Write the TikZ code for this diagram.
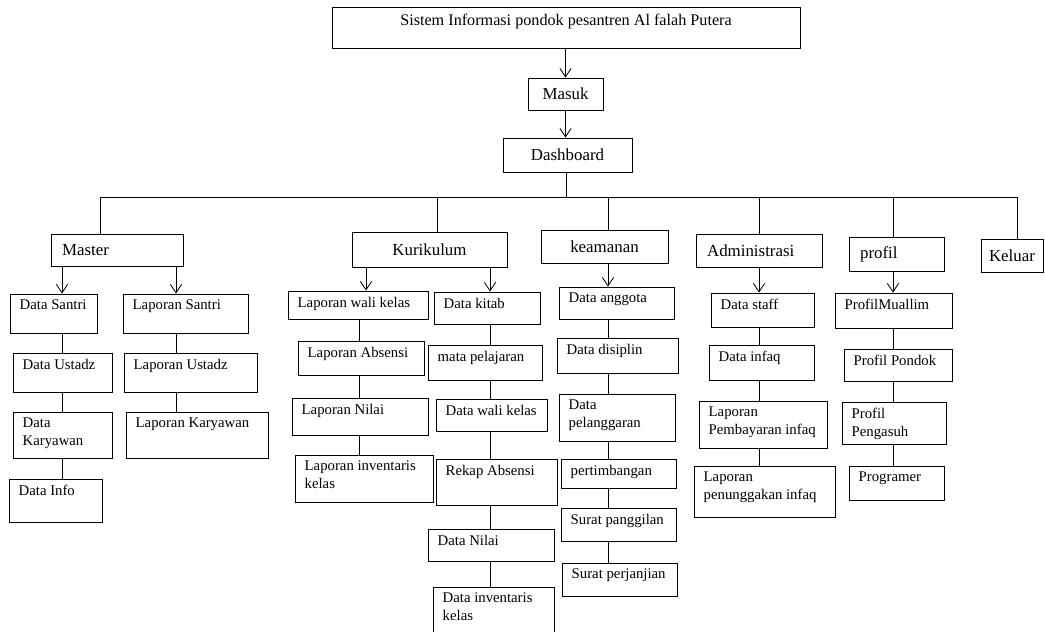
\documentclass[tikz,border=0pt]{standalone}
\usepackage{fontspec}
\setmainfont{Liberation Serif}
\usetikzlibrary{arrows.meta}

\begin{document}
\begin{tikzpicture}[x=0.025cm,y=-0.025cm]
\tikzstyle{box}=[draw,line width=0.6pt,inner sep=0pt]
\tikzstyle{head}=[box,font=\fontsize{12}{14}\selectfont]
\tikzstyle{ttl}=[anchor=north,inner ysep=5pt,font=\fontsize{11.5}{13}\selectfont]
\tikzstyle{lefthead}=[anchor=west,inner xsep=8pt,font=\fontsize{12}{14}\selectfont]
\tikzstyle{sub}=[anchor=north west,inner xsep=7pt,inner ysep=4.5pt,align=left,font=\fontsize{10.5}{12.6}\selectfont]
\tikzstyle{arr}=[line width=0.6pt,-{Straight Barb[length=6pt,width=8pt]}]
\tikzstyle{link}=[line width=0.6pt]
\tikzset{wh/.style 2 args={minimum width=#1*0.025cm,minimum height=#2*0.025cm}}
\useasboundingbox (0,0) rectangle (1045,631);
% top
\node[box,wh={468}{41},label={[ttl]north:Sistem Informasi pondok pesantren Al falah Putera}] (title) at (566,27.5) {};
\node[head,wh={75}{32}] (masuk) at (565.5,94) {Masuk};
\node[head,wh={129}{34}] (dash) at (567.5,155) {Dashboard};
% menu
\node[box,wh={132}{32},label={[lefthead]west:Master}] (master) at (117,250) {};
\node[head,wh={155}{35}] (kur) at (429.5,249.5) {Kurikulum};
\node[head,wh={127}{33}] (keam) at (604.5,246.5) {keamanan};
\node[box,wh={126}{33},label={[lefthead]west:Administrasi}] (admin) at (759,250.5) {};
\node[box,wh={95}{34},label={[lefthead]west:profil}] (profil) at (896.5,254) {};
\node[head,wh={62}{33}] (keluar) at (1012,255.5) {Keluar};
% master
\node[box,wh={87}{39},label={[sub]north west:Data Santri}] (dsantri) at (53.5,313.5) {};
\node[box,wh={99}{39},label={[sub]north west:Data Ustadz}] (dustadz) at (62.5,372.5) {};
\node[box,wh={99}{46},label={[sub]north west:Data\\Karyawan}] (dkary) at (62.5,435) {};
\node[box,wh={93}{43},label={[sub]north west:Data Info}] (dinfo) at (55.5,500.5) {};
\node[box,wh={125}{39},label={[sub]north west:Laporan Santri}] (lsantri) at (185.5,313.5) {};
\node[box,wh={133}{39},label={[sub]north west:Laporan Ustadz}] (lustadz) at (190.5,372.5) {};
\node[box,wh={142}{46},label={[sub]north west:Laporan Karyawan}] (lkary) at (197,435) {};
% kurikulum
\node[box,wh={140}{28},label={[sub]north west:Laporan wali kelas}] (lwk) at (358,305) {};
\node[box,wh={126}{34},label={[sub]north west:Laporan Absensi}] (labs) at (361,358) {};
\node[box,wh={136}{37},label={[sub]north west:Laporan Nilai}] (lnilai) at (360,416.5) {};
\node[box,wh={138}{47},label={[sub]north west:Laporan inventaris\\kelas}] (linv) at (364,478.5) {};
\node[box,wh={106}{32},label={[sub]north west:Data kitab}] (dkitab) at (487,308) {};
\node[box,wh={114}{35},label={[sub]north west:mata pelajaran}] (mapel) at (485,362.5) {};
\node[box,wh={111}{32},label={[sub]north west:Data wali kelas}] (dwk) at (491.5,415) {};
\node[box,wh={121}{46},label={[sub]north west:Rekap Absensi}] (rekap) at (496.5,482) {};
\node[box,wh={126}{32},label={[sub]north west:Data Nilai}] (dnilai) at (491,545) {};
\node[box,wh={121}{49},label={[sub]north west:Data inventaris\\kelas}] (dinv) at (493.5,611.5) {};
% keamanan
\node[box,wh={115}{32},label={[sub]north west:Data anggota}] (dangg) at (616.5,303) {};
\node[box,wh={121}{35},label={[sub]north west:Data disiplin}] (ddisip) at (617.5,355.5) {};
\node[box,wh={116}{47},label={[sub]north west:Data\\pelanggaran}] (dpelang) at (617,417.5) {};
\node[box,wh={115}{29},label={[sub]north west:pertimbangan}] (pertimb) at (618.5,473.5) {};
\node[box,wh={115}{33},label={[sub]north west:Surat panggilan}] (spang) at (618.5,524.5) {};
\node[box,wh={115}{33},label={[sub]north west:Surat perjanjian}] (sperj) at (619.5,579.5) {};
% administrasi
\node[box,wh={103}{34},label={[sub]north west:Data staff}] (dstaff) at (762.5,310) {};
\node[box,wh={105}{35},label={[sub]north west:Data infaq}] (dinfaq) at (761.5,362.5) {};
\node[box,wh={128}{47},label={[sub]north west:Laporan\\Pembayaran infaq}] (lpemb) at (763,424.5) {};
\node[box,wh={141}{51},label={[sub]north west:Laporan\\penunggakan infaq}] (lpenu) at (764.5,491.5) {};
% profil
\node[box,wh={117}{35},label={[sub]north west:ProfilMuallim}] (pmuallim) at (893.5,310.5) {};
\node[box,wh={108}{32},label={[sub]north west:Profil Pondok}] (ppondok) at (898,365) {};
\node[box,wh={104}{42},label={[sub]north west:Profil\\Pengasuh}] (ppengasuh) at (894,423) {};
\node[box,wh={95}{34},label={[sub]north west:Programer}] (programer) at (896.5,483) {};
% columns and bus
\coordinate (bus) at (566,197);
\coordinate (c1) at (62,0);
\coordinate (c2) at (176,0);
\coordinate (c3) at (359,0);
\coordinate (c4) at (490,0);
\coordinate (c5) at (608,0);
\coordinate (c6) at (759,0);
\coordinate (c7) at (893,0);
\draw[arr] (title.south -| masuk.north) -- (masuk.north);
\draw[arr] (masuk.south) -- (masuk.south |- dash.north);
\draw[link] (dash.south -| bus) -- (bus);
\draw[link] ([xshift=-0.42cm]master.north) |- ([xshift=0.125cm]keluar.north |- bus) -- ([xshift=0.125cm]keluar.north);
\draw[link] ([xshift=0.21cm]kur.north) -- ([xshift=0.21cm]kur.north |- bus);
\draw[link] (keam.north -| c5) -- (bus -| c5);
\draw[link] (admin.north -| c6) -- (bus -| c6);
\draw[link] (profil.north -| c7) -- (bus -| c7);
% master links
\draw[arr] (master.south -| c1) -- (dsantri.north -| c1);
\draw[arr] (master.south -| c2) -- (lsantri.north -| c2);
\draw[link] (dsantri.south -| c1) -- (dustadz.north -| c1);
\draw[link] (dustadz.south -| c1) -- (dkary.north -| c1);
\draw[link] (dkary.south -| c1) -- (dinfo.north -| c1);
\draw[link] (lsantri.south -| c2) -- (lustadz.north -| c2);
\draw[link] (lustadz.south -| c2) -- (lkary.north -| c2);
% kurikulum links
\draw[arr] ([xshift=0.175cm]kur.south -| c3) -- ([xshift=0.175cm]lwk.north -| c3);
\draw[arr] (kur.south -| c4) -- (dkitab.north -| c4);
\draw[link] (lwk.south -| c3) -- (labs.north -| c3);
\draw[link] (labs.south -| c3) -- (lnilai.north -| c3);
\draw[link] (lnilai.south -| c3) -- (linv.north -| c3);
\draw[link] (dkitab.south -| c4) -- (mapel.north -| c4);
\draw[link] (mapel.south -| c4) -- (dwk.north -| c4);
\draw[link] (dwk.south -| c4) -- (rekap.north -| c4);
\draw[link] (rekap.south -| c4) -- (dnilai.north -| c4);
\draw[link] (dnilai.south -| c4) -- (dinv.north -| c4);
% keamanan links
\draw[arr] (keam.south -| c5) -- (dangg.north -| c5);
\draw[link] (dangg.south -| c5) -- (ddisip.north -| c5);
\draw[link] (ddisip.south -| c5) -- (dpelang.north -| c5);
\draw[link] (dpelang.south -| c5) -- (pertimb.north -| c5);
\draw[link] (pertimb.south -| c5) -- (spang.north -| c5);
\draw[link] (spang.south -| c5) -- (sperj.north -| c5);
% administrasi links
\draw[arr] (admin.south -| c6) -- (dstaff.north -| c6);
\draw[link] (dstaff.south -| c6) -- (dinfaq.north -| c6);
\draw[link] (dinfaq.south -| c6) -- (lpemb.north -| c6);
\draw[link] (lpemb.south -| c6) -- (lpenu.north -| c6);
% profil links
\draw[arr] (profil.south -| c7) -- (pmuallim.north -| c7);
\draw[link] (pmuallim.south -| c7) -- (ppondok.north -| c7);
\draw[link] (ppondok.south -| c7) -- (ppengasuh.north -| c7);
\draw[link] (ppengasuh.south -| c7) -- (programer.north -| c7);
\end{tikzpicture}
\end{document}
